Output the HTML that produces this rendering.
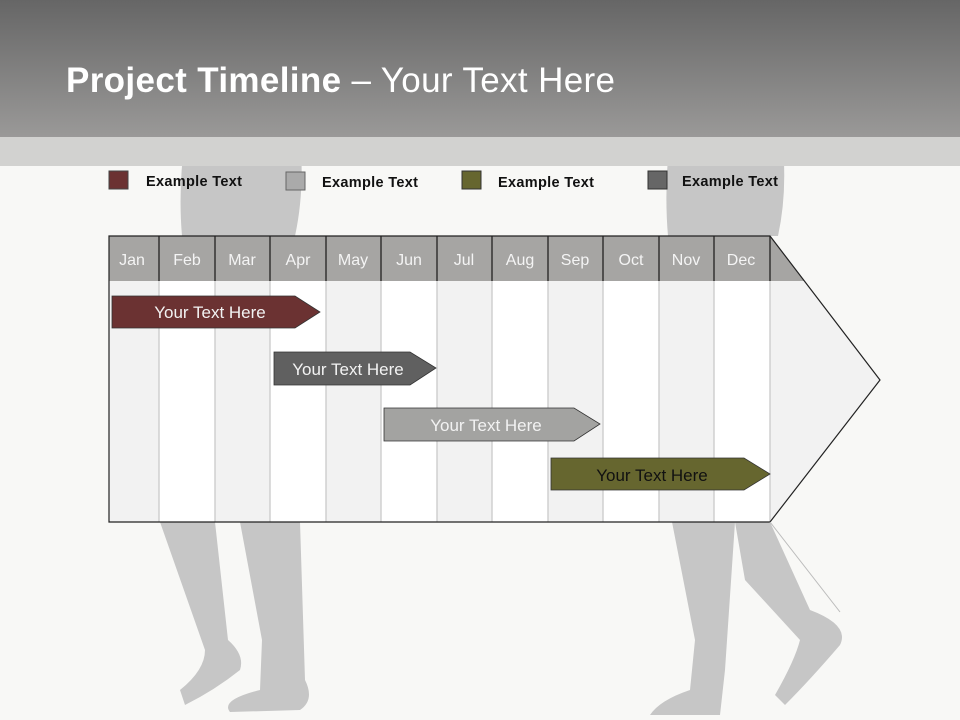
<!DOCTYPE html>
<html><head><style>body{margin:0}svg{display:block}</style></head><body>
<svg width="960" height="720" xmlns="http://www.w3.org/2000/svg" font-family="Liberation Sans, sans-serif">
<defs>
<linearGradient id="tb" x1="0" y1="0" x2="0" y2="1"><stop offset="0" stop-color="#666"/><stop offset="1" stop-color="#9a9998"/></linearGradient>
</defs>
<rect width="960" height="720" fill="#f8f8f6"/>
<g fill="#c6c6c6">
<path d="M185 137 L300 137 Q305 190 295 236 L182 236 Q178 190 185 137Z"/>
<path d="M670 137 L782 137 Q788 190 778 236 L668 236 Q664 190 670 137Z"/>
<path d="M160 522 L215 522 L228 640 Q245 655 240 670 Q215 690 185 705 L180 690 Q205 670 205 650 Z"/>
<path d="M240 522 L300 522 L305 680 Q315 700 300 710 L230 712 Q220 700 260 690 L262 640 Z"/>
<path d="M672 522 L735 522 L725 670 L720 715 L650 715 Q660 700 690 690 L695 640 Z"/>
<path d="M735 522 L770 522 L810 610 Q850 625 840 645 Q810 680 785 705 L775 695 Q795 660 800 640 L745 580 Z"/>
</g>
<rect x="0" y="0" width="960" height="137" fill="url(#tb)"/>
<rect x="0" y="137" width="960" height="29" fill="#d2d2d0"/>
<text x="66" y="92" font-size="35" fill="#fff" textLength="549"><tspan font-weight="bold">Project Timeline</tspan> – Your Text Here</text>
<g font-size="14.5" font-weight="bold" fill="#111">
<rect x="109" y="171" width="19" height="18" fill="#6b3232" stroke="#444"/><text x="146" y="186" textLength="96">Example Text</text>
<rect x="286" y="172" width="19" height="18" fill="#aaa" stroke="#666"/><text x="322" y="187" textLength="96">Example Text</text>
<rect x="462" y="171" width="19" height="18" fill="#66662f" stroke="#333"/><text x="498" y="187" textLength="96">Example Text</text>
<rect x="648" y="171" width="19" height="18" fill="#666" stroke="#333"/><text x="682" y="186" textLength="96">Example Text</text>
</g>
<polygon points="109,236 770,236 880,380 770,522 109,522" fill="#f2f2f2"/>
<g fill="#fff">
<rect x="159" y="281" width="56" height="241"/><rect x="270" y="281" width="56" height="241"/>
<rect x="381" y="281" width="56" height="241"/><rect x="492" y="281" width="56" height="241"/>
<rect x="603" y="281" width="56" height="241"/><rect x="714" y="281" width="56" height="241"/>
</g>
<g stroke="#d0d0d0" stroke-width="1.5">
<path d="M159 281V522M215 281V522M270 281V522M326 281V522M381 281V522M437 281V522M492 281V522M548 281V522M603 281V522M659 281V522M714 281V522M770 281V522"/>
</g>
<polygon points="109,236 770,236 804,281 109,281" fill="#a6a5a3"/>
<g stroke="#333" stroke-width="1.5"><path d="M159 236V281M215 236V281M270 236V281M326 236V281M381 236V281M437 236V281M492 236V281M548 236V281M603 236V281M659 236V281M714 236V281M770 236V281"/></g>
<polygon points="109,236 770,236 880,380 770,522 109,522" fill="none" stroke="#222" stroke-width="1.2"/>
<g font-size="16" fill="#f4f4f4" text-anchor="middle">
<text x="132" y="265">Jan</text><text x="187" y="265">Feb</text><text x="242" y="265">Mar</text><text x="298" y="265">Apr</text><text x="353" y="265">May</text><text x="409" y="265">Jun</text><text x="464" y="265">Jul</text><text x="520" y="265">Aug</text><text x="575" y="265">Sep</text><text x="631" y="265">Oct</text><text x="686" y="265">Nov</text><text x="741" y="265">Dec</text>
</g>
<g stroke="#333" stroke-width="0.8">
<polygon points="112,296 295,296 320,312 295,328 112,328" fill="#6b3232"/>
<polygon points="274,352 410,352 436,368 410,385 274,385" fill="#606060"/>
<polygon points="384,408 574,408 600,424 574,441 384,441" fill="#a3a3a1"/>
<polygon points="551,458 744,458 770,474 744,490 551,490" fill="#66662f"/>
</g>
<g font-size="17" text-anchor="middle">
<text x="210" y="318" fill="#f2f2f2">Your  Text Here</text>
<text x="348" y="375" fill="#f2f2f2">Your  Text Here</text>
<text x="486" y="431" fill="#f2f2f2">Your  Text Here</text>
<text x="652" y="481" fill="#111">Your  Text Here</text>
</g>
<path d="M770 522 L840 612" stroke="#bbb" stroke-width="1"/>
</svg>
</body></html>
